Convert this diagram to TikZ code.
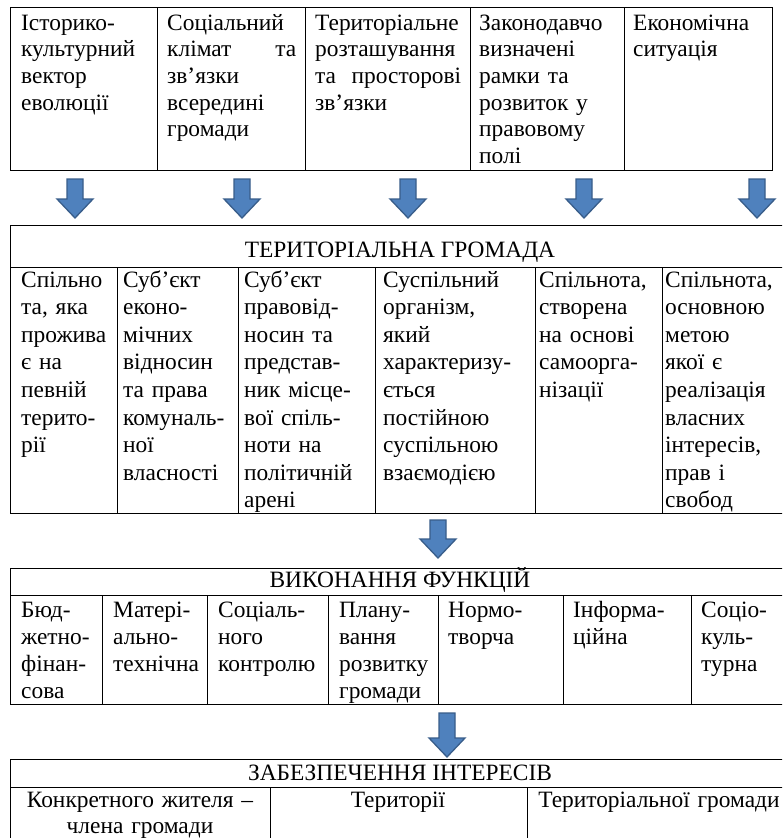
\documentclass[tikz,border=0pt]{standalone}
\usepackage{fontspec}
\setmainfont{Liberation Serif}
\definecolor{arrfill}{HTML}{4F81BD}
\definecolor{arredge}{HTML}{385D8A}
\newcommand\blockarr[4]{% name, x, top, tip
  \coordinate (#1) at (#2,#3);
  \draw[blk] ($(#1)+(-8,0)$) -- ($(#1)+(8,0)$) -- ($(#1)+(8,#4-#3-19)$) -- ($(#1)+(18,#4-#3-19)$)
    -- ($(#1)+(0,#4-#3)$) -- ($(#1)+(-18,#4-#3-19)$) -- ($(#1)+(-8,#4-#3-19)$) -- cycle;}
\newcommand\justline[2]{\leavevmode\hbox to #1{#2}}
\usetikzlibrary{calc}
\begin{document}
\begin{tikzpicture}[x=1pt,y=-1pt,
  grid/.style={line width=0.9pt, line cap=rect},
  cellA/.style={inner sep=0pt, anchor=base west, align=left, text width=200pt,
    font=\fontsize{23.4}{26.7}\selectfont},
  cellB/.style={inner sep=0pt, anchor=base west, align=left, text width=200pt,
    font=\fontsize{23.4}{27.6}\selectfont},
  cellC/.style={inner sep=0pt, anchor=base west, align=left, text width=200pt,
    font=\fontsize{23.4}{27}\selectfont},
  cellD/.style={inner sep=0pt, anchor=base, align=center, text width=250pt,
    font=\fontsize{23.4}{26}\selectfont},
  head/.style={inner sep=0pt, anchor=base, font=\fontsize{23.4}{27}\selectfont},
  blk/.style={fill=arrfill, draw=arredge, line width=1.3pt, line join=miter}]
\clip (0,0) rectangle (782,838);
\fill[white] (0,0) rectangle (782,838);

% ---------- top table ----------
\draw[grid] (10,7) rectangle (772,170);
\foreach \x in {157,305,470,624} \draw[grid] (\x,7) -- (\x,170);
\node[cellA] (t1) at (21,30) {Історико-\\культурний\\вектор\\еволюції};
\node[cellA] (t2) at (167,30) {Соціальний\\\justline{129pt}{клімат\hfill та}\\зв’язки\\всередині\\громади};
\node[cellA] (t3) at (315,30) {Територіальне\\розташування\\\justline{146pt}{та\hfill просторові}\\зв’язки};
\node[cellA] (t4) at (479,30) {Законодавчо\\визначені\\рамки та\\розвиток у\\правовому\\полі};
\node[cellA] (t5) at (633,30) {Економічна\\ситуація};

% ---------- arrows 1 ----------
\blockarr{a1}{75}{179}{218}
\blockarr{a2}{242}{179}{218}
\blockarr{a3}{408}{179}{218}
\blockarr{a4}{584}{179}{218}
\blockarr{a5}{757}{179}{218}

% ---------- second table ----------
\draw[grid] (10,513) -- (10,225) -- (795,225);
\draw[grid] (10,267) -- (795,267);
\draw[grid] (10,513) -- (795,513);
\foreach \x in {117,238,375,535,662} \draw[grid] (\x,267) -- (\x,513);
\node[head] (h1) at (400,257) {ТЕРИТОРІАЛЬНА ГРОМАДА};
\node[cellB] (s1) at (21,287) {Спільно\\та, яка\\прожива\\є на\\певній\\терито-\\рії};
\node[cellB] (s2) at (123,287) {Суб’єкт\\еконо-\\мічних\\відносин\\та права\\комуналь-\\ної\\власності};
\node[cellB] (s3) at (244,287) {Суб’єкт\\правовід-\\носин та\\представ-\\ник місце-\\вої спіль-\\ноти на\\політичній\\арені};
\node[cellB] (s4) at (383,287) {Суспільний\\організм,\\який\\характеризу-\\ється\\постійною\\суспільною\\взаємодією};
\node[cellB] (s5) at (539,287) {Спільнота,\\створена\\на основі\\самоорга-\\нізації};
\node[cellB] (s6) at (665,287) {Спільнота,\\основною\\метою\\якої є\\реалізація\\власних\\інтересів,\\прав і\\свобод};

% ---------- arrow 2 ----------
\blockarr{b1}{438}{520}{558}

% ---------- third table ----------
\draw[grid] (10,704) -- (10,568) -- (795,568);
\draw[grid] (10,595) -- (795,595);
\draw[grid] (10,704) -- (795,704);
\foreach \x in {102,207,328,438,563,691} \draw[grid] (\x,595) -- (\x,704);
\node[head] (h2) at (400,587) {ВИКОНАННЯ ФУНКЦІЙ};
\node[cellC] (f1) at (21,617) {Бюд-\\жетно-\\фінан-\\сова};
\node[cellC] (f2) at (113,617) {Матері-\\ально-\\технічна};
\node[cellC] (f3) at (218,617) {Соціаль-\\ного\\контролю};
\node[cellC] (f4) at (339,617) {Плану-\\вання\\розвитку\\громади};
\node[cellC] (f5) at (448,617) {Нормо-\\творча};
\node[cellC] (f6) at (573,617) {Інформа-\\ційна};
\node[cellC] (f7) at (701,617) {Соціо-\\куль-\\турна};

% ---------- arrow 3 ----------
\blockarr{c1}{447}{713}{757}

% ---------- fourth table ----------
\draw[grid] (10,845) -- (10,759) -- (795,759);
\draw[grid] (10,787) -- (795,787);
\foreach \x in {270,527} \draw[grid] (\x,787) -- (\x,845);
\node[head] (h3) at (400,780) {ЗАБЕЗПЕЧЕННЯ ІНТЕРЕСІВ};
\node[cellD] (z1) at (140,807) {Конкретного жителя –\\члена громади};
\node[cellD] (z2) at (398,807) {Території};
\node[cellD] (z3) at (659,807) {Територіальної громади};
\end{tikzpicture}
\end{document}
